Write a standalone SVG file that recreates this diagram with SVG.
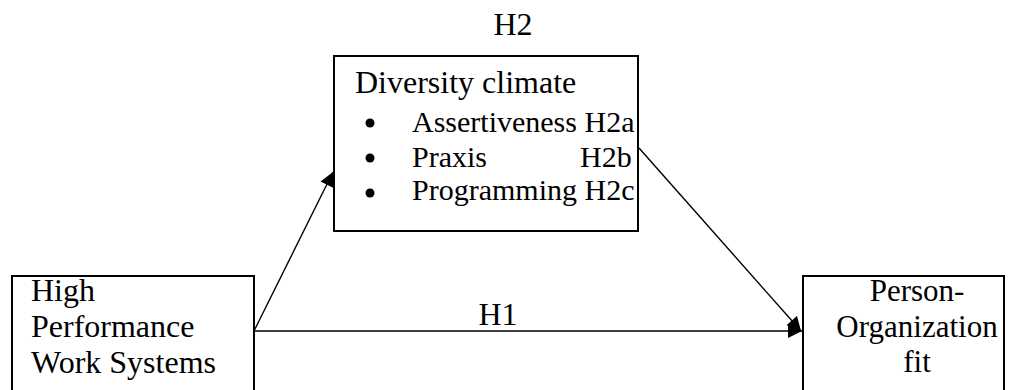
<svg xmlns="http://www.w3.org/2000/svg" width="1016" height="390" viewBox="0 0 1016 390" font-family="Liberation Serif, Times New Roman, serif">
<style>
.box{fill:#fff;stroke:#000;stroke-width:2}
text{font-family:'Liberation Serif','Times New Roman',serif;font-size:32px;fill:#000}
.s{font-size:31px}
.l{font-size:30px}
.c{text-anchor:middle}
.ln{stroke:#000;stroke-width:1.4;fill:none}
</style>
<defs>
<marker id="ah" viewBox="0 0 10 10" refX="10" refY="5" markerWidth="15" markerHeight="14" markerUnits="userSpaceOnUse" orient="auto">
<path d="M0,0 L10,5 L0,10 z" fill="#000"/>
</marker>
</defs>
<g id="label-h2"><text x="513" y="35" class="c">H2</text></g>
<g id="node-diversity">
<rect class="box" x="334" y="56" width="304" height="175"/>
<text x="355" y="93">Diversity climate</text>
<circle cx="370" cy="123" r="4.5"/>
<circle cx="370" cy="158" r="4.5"/>
<circle cx="370" cy="193" r="4.5"/>
<text x="412" y="132" class="l">Assertiveness H2a</text>
<text x="412" y="167" class="l">Praxis</text>
<text x="580" y="167" class="l">H2b</text>
<text x="412" y="200" class="l">Programming H2c</text>
</g>
<g id="node-hpws">
<rect class="box" x="12" y="276" width="242" height="124"/>
<text x="31" y="301">High</text>
<text x="31" y="337">Performance</text>
<text x="31" y="373">Work Systems</text>
</g>
<g id="node-pofit">
<rect class="box" x="803" y="276" width="201" height="124"/>
<text x="917" y="301" class="c s">Person-</text>
<text x="917" y="337" class="c s">Organization</text>
<text x="917" y="372" class="c s">fit</text>
</g>
<g id="connectors">
<line class="ln" x1="254" y1="331" x2="333" y2="172" marker-end="url(#ah)"/>
<line class="ln" x1="254" y1="331" x2="802" y2="331" marker-end="url(#ah)"/>
<line class="ln" x1="639" y1="148" x2="801" y2="331" marker-end="url(#ah)"/>
<text x="498" y="325" class="c">H1</text>
</g>
</svg>
